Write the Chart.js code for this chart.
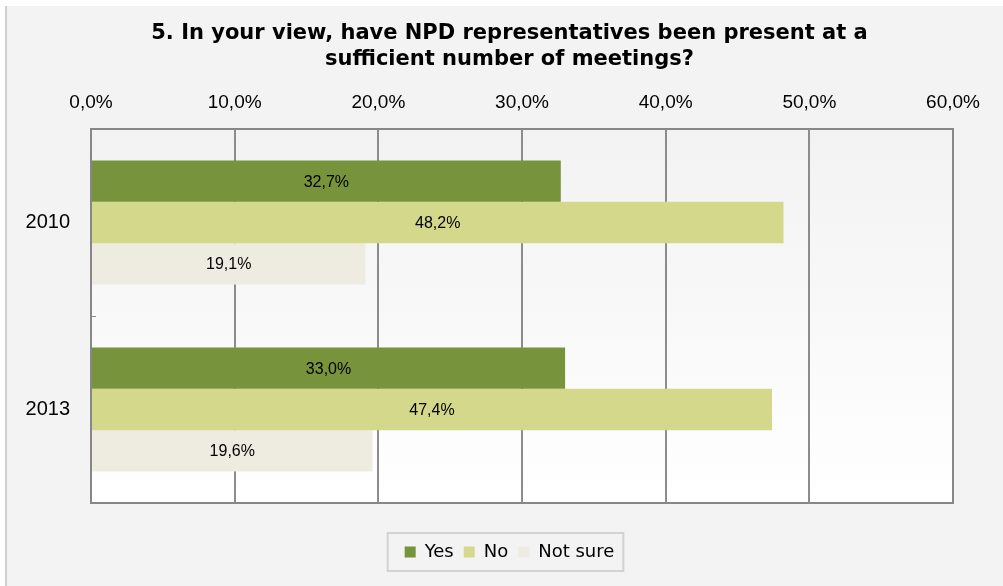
<!DOCTYPE html>
<html>
<head>
<meta charset="utf-8">
<script src="https://cdn.jsdelivr.net/npm/chart.js@4/dist/chart.umd.min.js"></script>
<style>
html,body{margin:0;padding:0;background:#fff;}
#wrap{width:1003px;height:586px;}
</style>
</head>
<body>
<div id="wrap"><canvas id="c" width="1003" height="586"></canvas></div>
<script>
const categories = ['2010', '2013'];
const seriesNames = ['Yes', 'No', 'Not sure'];
const yesValues = [32.7, 33.0];
const noValues = [48.2, 47.4];
const notSureValues = [19.1, 19.6];
const xTicks = [0, 10, 20, 30, 40, 50, 60];
const titleLines = ['5. In your view, have NPD representatives been present at a', 'sufficient number of meetings?'];
const colors = ['#77933C', '#D4D88A', '#EEECE1'];

function fmt(v){ return v.toFixed(1).replace('.', ',') + '%'; }

const bgPlugin = {
  id: 'bg',
  beforeDraw(chart){
    const ctx = chart.ctx, w = chart.width, h = chart.height;
    ctx.save();
    ctx.fillStyle = '#FFFFFF';
    ctx.fillRect(0,0,w,h);
    ctx.fillStyle = '#F3F3F3';
    ctx.fillRect(5,6,w-5,h-6);
    ctx.fillStyle = '#CFCFCF';
    ctx.fillRect(5,6,2,h-6);
    const a = chart.chartArea;
    const g = ctx.createLinearGradient(0,a.top,0,a.bottom);
    g.addColorStop(0,'#F2F2F2');
    g.addColorStop(1,'#FFFFFF');
    ctx.fillStyle = g;
    ctx.fillRect(a.left,a.top,a.right-a.left,a.bottom-a.top);
    ctx.restore();
  },
  afterDatasetsDraw(chart){
    const ctx = chart.ctx, a = chart.chartArea;
    ctx.save();
    ctx.strokeStyle = '#878787';
    ctx.lineWidth = 2;
    ctx.strokeRect(a.left, a.top, a.right-a.left, a.bottom-a.top);
    const ys = chart.scales.y;
    for (let i = 0; i < categories.length - 1; i++) {
      const yy = Math.round((ys.getPixelForTick(i) + ys.getPixelForTick(i+1)) / 2) + 0.5;
      ctx.lineWidth = 1;
      ctx.beginPath();
      ctx.moveTo(a.left, yy);
      ctx.lineTo(a.left + 5, yy);
      ctx.stroke();
    }
    ctx.fillStyle = '#000';
    ctx.font = '16px "Liberation Sans", Arial, sans-serif';
    ctx.textAlign = 'center';
    ctx.textBaseline = 'middle';
    chart.data.datasets.forEach((ds, di) => {
      const meta = chart.getDatasetMeta(di);
      meta.data.forEach((el, i) => {
        const p = el.getProps(['x','y','base'], true);
        ctx.fillText(fmt(ds.data[i]), (p.x + p.base) / 2, p.y + 1);
      });
    });
    ctx.restore();
  },
  afterDraw(chart){
    const lg = chart.legend;
    if (!lg || !lg.legendHitBoxes || !lg.legendHitBoxes.length) return;
    const hb = lg.legendHitBoxes;
    let minL = Infinity, maxR = -Infinity;
    hb.forEach(b => { minL = Math.min(minL, b.left); maxR = Math.max(maxR, b.left + b.width); });
    const ctx = chart.ctx;
    ctx.save();
    ctx.strokeStyle = '#D2D2D2';
    ctx.lineWidth = 2;
    ctx.strokeRect(minL - 17, lg.top, (maxR + 9) - (minL - 17), lg.bottom - lg.top);
    ctx.restore();
  }
};

new Chart(document.getElementById('c'), {
  type: 'bar',
  data: {
    labels: categories,
    datasets: [
      { label: seriesNames[0], data: yesValues, backgroundColor: colors[0], borderWidth: 0, xAxisID: 'x', yAxisID: 'y' },
      { label: seriesNames[1], data: noValues, backgroundColor: colors[1], borderWidth: 0, xAxisID: 'x', yAxisID: 'y' },
      { label: seriesNames[2], data: notSureValues, backgroundColor: colors[2], borderWidth: 0, xAxisID: 'x', yAxisID: 'y' }
    ]
  },
  options: {
    indexAxis: 'y',
    responsive: false,
    animation: false,
    devicePixelRatio: 1,
    categoryPercentage: 0.663,
    barPercentage: 1,
    layout: { padding: { top: 0, left: 16, right: 0, bottom: 15 } },
    plugins: {
      title: {
        display: true,
        text: titleLines,
        color: '#000',
        font: { family: '"DejaVu Sans", Verdana, sans-serif', size: 21, weight: 'bold', lineHeight: 26/21 },
        padding: { top: 21, bottom: 0 }
      },
      legend: {
        position: 'bottom',
        labels: {
          color: '#000',
          font: { family: '"DejaVu Sans", Verdana, sans-serif', size: 18 },
          boxWidth: 11,
          boxHeight: 11,
          padding: 10
        }
      },
      tooltip: { enabled: false }
    },
    scales: {
      y: {
        type: 'category',
        position: 'left',
        afterFit(s){ s.width = 75; },
        grid: { display: false, drawTicks: false },
        border: { display: false },
        ticks: {
          color: '#000',
          padding: 21,
          font: { family: '"Liberation Sans", Arial, sans-serif', size: 20 }
        }
      },
      x: {
        type: 'linear',
        position: 'top',
        min: xTicks[0],
        max: xTicks[xTicks.length - 1],
        afterBuildTicks(s){ s.ticks = xTicks.map(v => ({ value: v })); },
        afterFit(s){ s.height = 56; },
        grid: { color: '#8C8C8C', lineWidth: 2, drawTicks: false },
        border: { display: false },
        ticks: {
          color: '#000',
          padding: 14.6,
          font: { family: '"Liberation Sans", Arial, sans-serif', size: 19 },
          callback: v => fmt(v)
        }
      },
      gap: {
        type: 'linear',
        axis: 'x',
        position: 'bottom',
        display: true,
        afterFit(s){ s.height = 30; },
        grid: { display: false, drawTicks: false },
        border: { display: false },
        ticks: { display: false }
      },
      rgap: {
        type: 'linear',
        axis: 'y',
        position: 'right',
        display: true,
        afterFit(s){ s.width = 50; },
        grid: { display: false, drawTicks: false },
        border: { display: false },
        ticks: { display: false }
      }
    }
  },
  plugins: [bgPlugin]
});
</script>
</body>
</html>
